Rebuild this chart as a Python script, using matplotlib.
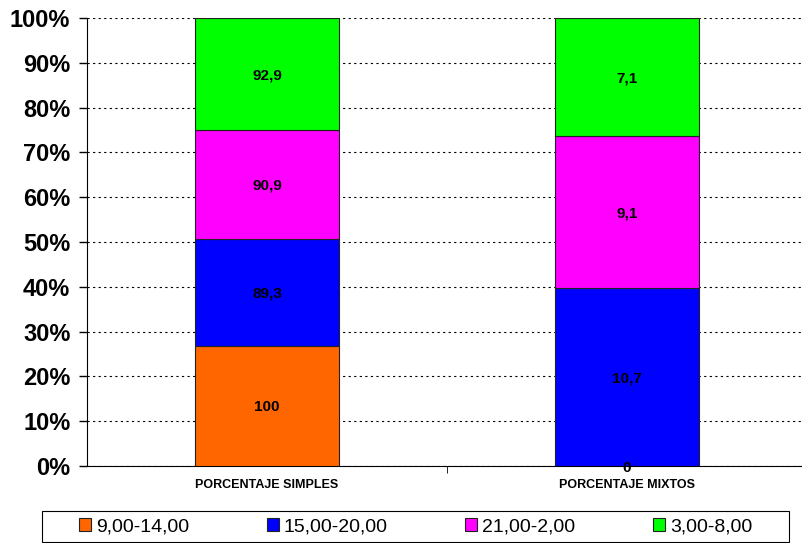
import numpy as np
import matplotlib.pyplot as plt
from matplotlib.patches import Rectangle
from matplotlib.ticker import PercentFormatter

plt.rcParams['font.family'] = ['Liberation Sans', 'DejaVu Sans']

categories = ['PORCENTAJE SIMPLES', 'PORCENTAJE MIXTOS']
series_names = ['9,00-14,00', '15,00-20,00', '21,00-2,00', '3,00-8,00']
series_values = [
    [100, 0],
    [89.3, 10.7],
    [90.9, 9.1],
    [92.9, 7.1],
]
series_labels = [
    ['100', '0'],
    ['89,3', '10,7'],
    ['90,9', '9,1'],
    ['92,9', '7,1'],
]
colors = ['#ff6600', '#0000ff', '#ff00ff', '#00ff00']

vals = np.array(series_values, dtype=float)
totals = vals.sum(axis=0)
pct = vals / totals * 100

W, H = 802, 543
fig = plt.figure(figsize=(W / 100, H / 100), dpi=100)
ax = fig.add_axes([87 / W, 1 - 466 / H, 715 / W, 448 / H])

x = np.arange(len(categories))
bottom = np.zeros(len(categories))
handles = []
for i, name in enumerate(series_names):
    b = ax.bar(x, pct[i], 0.4, bottom=bottom, color=colors[i],
               edgecolor='#222222', linewidth=0.8, label=name, zorder=3)
    handles.append(b)
    for j in range(len(categories)):
        ax.text(x[j], bottom[j] + pct[i][j] / 2, series_labels[i][j],
                ha='center', va='center_baseline', fontsize=11,
                fontweight='bold', zorder=4)
    bottom += pct[i]

ax.set_xlim(-0.5, 1.486)
ax.set_ylim(0, 100)
ax.set_yticks(np.arange(0, 101, 10))
ax.yaxis.set_major_formatter(PercentFormatter(decimals=0))
ax.tick_params(axis='y', labelsize=17, direction='out', length=6, width=1, pad=6)
for lbl in ax.get_yticklabels():
    lbl.set_fontweight('bold')

ax.set_xticks(x)
ax.set_xticklabels(categories, fontsize=9, fontweight='bold')
ax.tick_params(axis='x', length=0, pad=9)
ax.set_xticks([0.5], minor=True)
ax.tick_params(axis='x', which='minor', length=5, direction='out')

ax.grid(axis='y', color='black', linestyle=(0, (2, 3)), linewidth=0.8, zorder=0)
ax.spines['top'].set_visible(False)
ax.spines['right'].set_visible(False)

# legend box along the bottom edge
fig.add_artist(Rectangle((42 / W, 1 - 542 / H), 747 / W, 31 / H,
                         transform=fig.transFigure, fill=False,
                         edgecolor='black', linewidth=0.8))
fig.legend(handles=handles, loc='center',
           bbox_to_anchor=(415.5 / W, 1 - 526.5 / H),
           ncol=4, fontsize=14, frameon=False,
           handlelength=0.62, handleheight=0.62, handletextpad=0.25,
           columnspacing=4.0, borderaxespad=0, borderpad=0)

fig.savefig('out.png', dpi=100)
